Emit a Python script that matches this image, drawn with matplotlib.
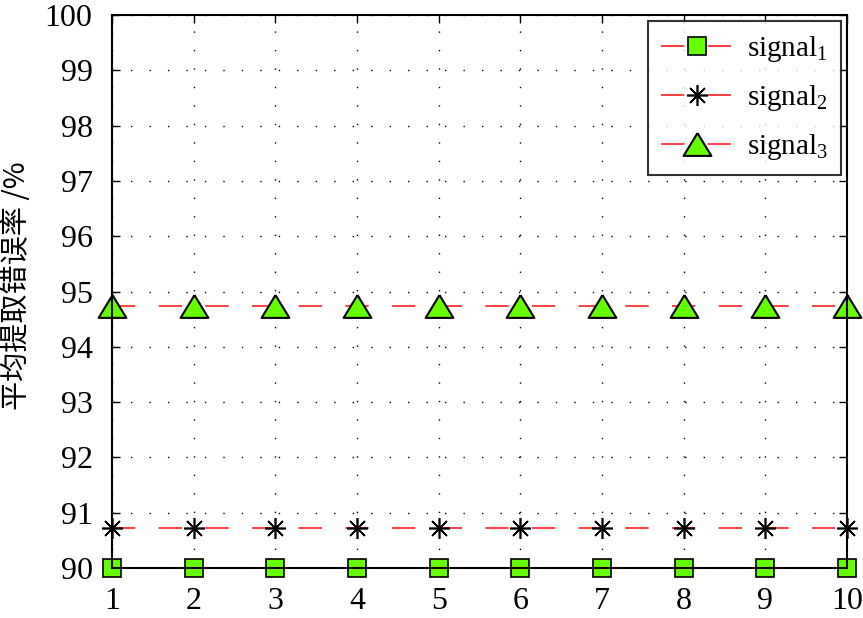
import matplotlib
matplotlib.use("Agg")
import matplotlib.pyplot as plt

x = [1, 2, 3, 4, 5, 6, 7, 8, 9, 10]
signal1 = [90.0] * 10
signal2 = [90.72] * 10
signal3 = [94.74] * 10
labels = [r"signal$_1$", r"signal$_2$", r"signal$_3$"]
yticks = [90, 91, 92, 93, 94, 95, 96, 97, 98, 99, 100]

plt.rcParams['font.family'] = ['Liberation Serif', 'Noto Sans CJK SC']
plt.rcParams['mathtext.fontset'] = 'custom'
plt.rcParams['mathtext.rm'] = 'Liberation Serif'
plt.rcParams['mathtext.it'] = 'Liberation Serif'

fig = plt.figure(figsize=(8.63, 6.18), dpi=100)
ax = fig.add_axes([0.1298, 0.0809, 0.9815 - 0.1298, 0.9757 - 0.0809])

tri = [(0, 0.82), (-1, -0.82), (1, -0.82), (0, 0.82)]
common = dict(color='#ff2020', linewidth=1.2, dashes=(14, 14), markeredgecolor='black')
ax.plot(x, signal1, marker='s', markersize=13.5, markerfacecolor='#66ff00',
        markeredgewidth=1.2, label=labels[0], clip_on=False, **common)
ax.plot(x, signal2, marker=(8, 2, 0), markersize=15, markerfacecolor='black',
        markeredgewidth=1.2, label=labels[1], clip_on=False, **common)
ax.plot(x, signal3, marker=tri, markersize=20, markerfacecolor='#66ff00',
        markeredgewidth=1.5, label=labels[2], clip_on=False, **common)

ax.set_xlim(1, 10)
ax.set_ylim(90, 100)
ax.set_xticks(x)
ax.set_yticks(yticks)
ax.tick_params(direction='in', length=6, width=1, top=True, right=True,
               labelsize=23)
ax.tick_params(axis='x', pad=14)
ax.tick_params(axis='y', pad=14)
for sp in ax.spines.values():
    sp.set_linewidth(1.5)
ax.grid(True, color='black', linestyle=(0, (1, 12.3)), linewidth=1.0)
ax.set_ylabel("平均提取错误率 /%", fontsize=21,
              family=['Noto Sans CJK SC', 'Liberation Serif'])
ax.yaxis.set_label_coords(-0.129, 0.51)
ax.yaxis.label.set_va('center')

leg = ax.legend(loc='upper right', fontsize=21, frameon=True, fancybox=False,
                edgecolor='black', handlelength=2.5, borderaxespad=0.2,
                labelspacing=0.65, handletextpad=0.45, borderpad=0.45)
leg.get_frame().set_linewidth(1.5)

fig.savefig("out.png", dpi=100)
